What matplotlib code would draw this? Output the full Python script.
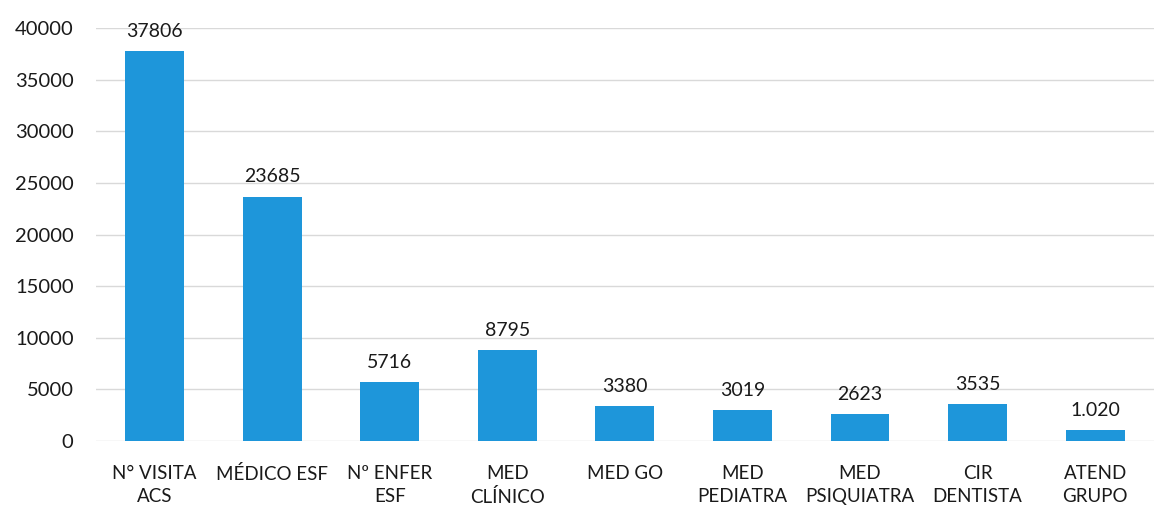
import matplotlib
matplotlib.use("Agg")
import matplotlib.pyplot as plt

# ---------------------------------------------------------------------------
# Data
# ---------------------------------------------------------------------------
categories = ["N° VISITA\nACS", "MÉDICO ESF", "Nº ENFER\nESF", "MED\nCLÍNICO",
              "MED GO", "MED\nPEDIATRA", "MED\nPSIQUIATRA", "CIR\nDENTISTA",
              "ATEND\nGRUPO"]
values = [37806, 23685, 5716, 8795, 3380, 3019, 2623, 3535, 1020]
value_labels = ["37806", "23685", "5716", "8795", "3380", "3019", "2623",
                "3535", "1.020"]
yticks = [0, 5000, 10000, 15000, 20000, 25000, 30000, 35000, 40000]

BAR = "#1E96DA"
TXT = "#1a1a1a"

plt.rcParams["font.family"] = ["Lato", "DejaVu Sans"]

fig = plt.figure(figsize=(11.54, 5.23), dpi=100)
ax = fig.add_axes([0.083, 0.157, 0.917, 0.789])

x = range(len(categories))
ax.bar(x, values, width=0.5, color=BAR, zorder=2)

for xi, v, lab in zip(x, values, value_labels):
    ax.annotate(lab, (xi, v), xytext=(0, 8), textcoords="offset points",
                ha="center", va="bottom", fontsize=14, color=TXT)

ax.set_xlim(-0.5, len(categories) - 0.5)
ax.set_ylim(0, 40000)
ax.set_yticks(yticks)
ax.set_yticklabels([str(t) for t in yticks], fontsize=14.5, color=TXT)
ax.set_xticks(list(x))
ax.set_xticklabels(categories, fontsize=13.5, color=TXT, linespacing=1.45)
ax.tick_params(axis="both", length=0)
ax.tick_params(axis="x", pad=17)
ax.tick_params(axis="y", pad=16)

ax.grid(axis="y", color="#d9d9d9", linewidth=1, zorder=0)
for s in ax.spines.values():
    s.set_visible(False)

fig.savefig("out.png", dpi=100, facecolor="white")
